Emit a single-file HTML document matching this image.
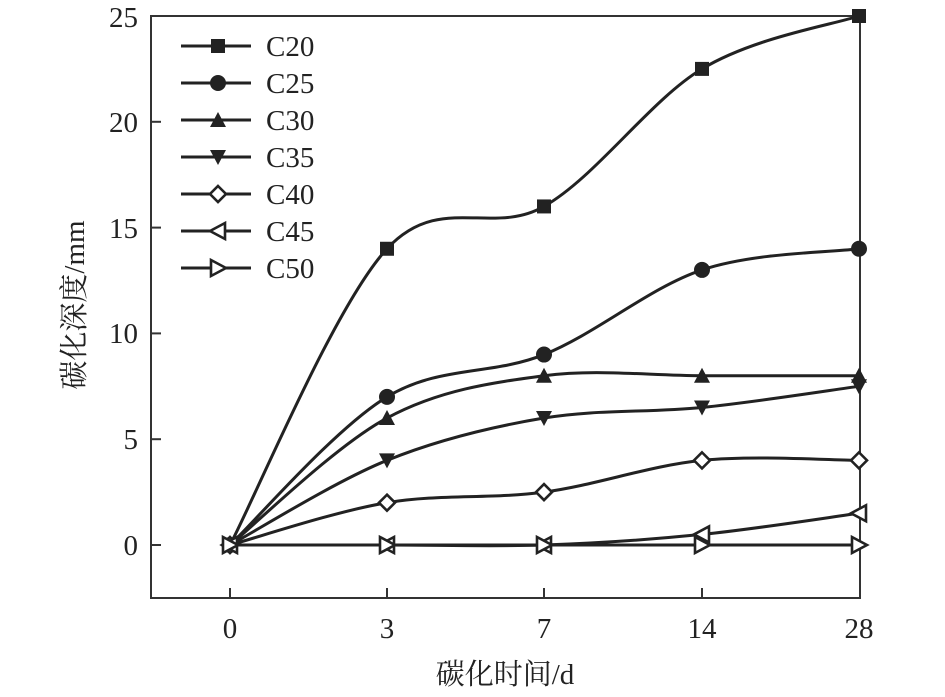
<!DOCTYPE html>
<html><head><meta charset="utf-8"><style>body{margin:0;background:#fff}svg{display:block}text{font-family:"Liberation Serif","Noto Serif CJK SC",serif;fill:#222}</style></head>
<body>
<svg id="s" width="945" height="697" xmlns="http://www.w3.org/2000/svg">
<rect x="151" y="16" width="709" height="582" fill="none" stroke="#333" stroke-width="2"/>
<g id="ticks" stroke="#333" stroke-width="2"></g>
<g id="plot"></g>
<g font-size="29" text-anchor="end">
<text x="138" y="555">0</text><text x="138" y="449">5</text><text x="138" y="343">10</text><text x="138" y="238">15</text><text x="138" y="132">20</text><text x="138" y="27">25</text>
</g>
<g font-size="29" text-anchor="middle">
<text x="230" y="638">0</text><text x="387" y="638">3</text><text x="544" y="638">7</text><text x="702" y="638">14</text><text x="859" y="638">28</text>
<text x="505" y="684">碳化时间/d</text>
<text transform="translate(84,305) rotate(-90)">碳化深度/mm</text>
</g>
<g font-size="29" id="leg"></g>
</svg>
<script>
const X=[230,387,544,702,859];const Y=v=>545-v*21.16;
const D=[[0,14,16,22.5,25],[0,7,9,13,14],[0,6,8,8,8],[0,4,6,6.5,7.5],[0,2,2.5,4,4],[0,0,0,0.5,1.5],[0,0,0,0,0]];
const N=["C20","C25","C30","C35","C40","C45","C50"];
const ns="http://www.w3.org/2000/svg";
function el(t,a,p){const e=document.createElementNS(ns,t);for(const k in a)e.setAttribute(k,a[k]);p.appendChild(e);return e;}
const T=document.getElementById("ticks");
[0,5,10,15,20].forEach(v=>el("line",{x1:151,x2:161,y1:Y(v),y2:Y(v)},T));
X.slice(0,4).forEach(x=>el("line",{x1:x,x2:x,y1:598,y2:588},T));
function marker(i,x,y,p){const s=7,st={stroke:"#222","stroke-width":2.6};
 if(i==0)el("rect",{x:x-s,y:y-s,width:2*s,height:2*s,fill:"#222"},p);
 if(i==1)el("circle",{cx:x,cy:y,r:s+1,fill:"#222"},p);
 if(i==2)el("polygon",{points:`${x},${y-s-1} ${x+s+1},${y+s} ${x-s-1},${y+s}`,fill:"#222"},p);
 if(i==3)el("polygon",{points:`${x},${y+s+1} ${x+s+1},${y-s} ${x-s-1},${y-s}`,fill:"#222"},p);
 if(i==4)el("polygon",Object.assign({points:`${x},${y-s-1} ${x+s+1},${y} ${x},${y+s+1} ${x-s-1},${y}`,fill:"#fff"},st),p);
 if(i==5)el("polygon",Object.assign({points:`${x-s-1},${y} ${x+s},${y-s-1} ${x+s},${y+s+1}`,fill:"#fff"},st),p);
 if(i==6)el("polygon",Object.assign({points:`${x+s+1},${y} ${x-s},${y-s-1} ${x-s},${y+s+1}`,fill:"#fff"},st),p);
}
const P=document.getElementById("plot");
D.forEach((d,i)=>{const pts=d.map((v,j)=>[X[j],Y(v)]);let s=`M${pts[0]}`;
 for(let j=0;j<pts.length-1;j++){const p0=pts[Math.max(j-1,0)],p1=pts[j],p2=pts[j+1],p3=pts[Math.min(j+2,pts.length-1)];
  const c1=[p1[0]+(p2[0]-p0[0])/6,p1[1]+(p2[1]-p0[1])/6],c2=[p2[0]-(p3[0]-p1[0])/6,p2[1]-(p3[1]-p1[1])/6];
  s+=` C${c1} ${c2} ${p2}`;}
 el("path",{d:s,fill:"none",stroke:"#222","stroke-width":3},P);});
D.forEach((d,i)=>d.forEach((v,j)=>marker(i,X[j],Y(v),P)));
const L=document.getElementById("leg");
N.forEach((n,i)=>{const y=46+i*37;el("line",{x1:181,x2:251,y1:y,y2:y,stroke:"#222","stroke-width":3},L);marker(i,218,y,L);const t=el("text",{x:266,y:y+10},L);t.textContent=n;});
</script>
</body></html>
